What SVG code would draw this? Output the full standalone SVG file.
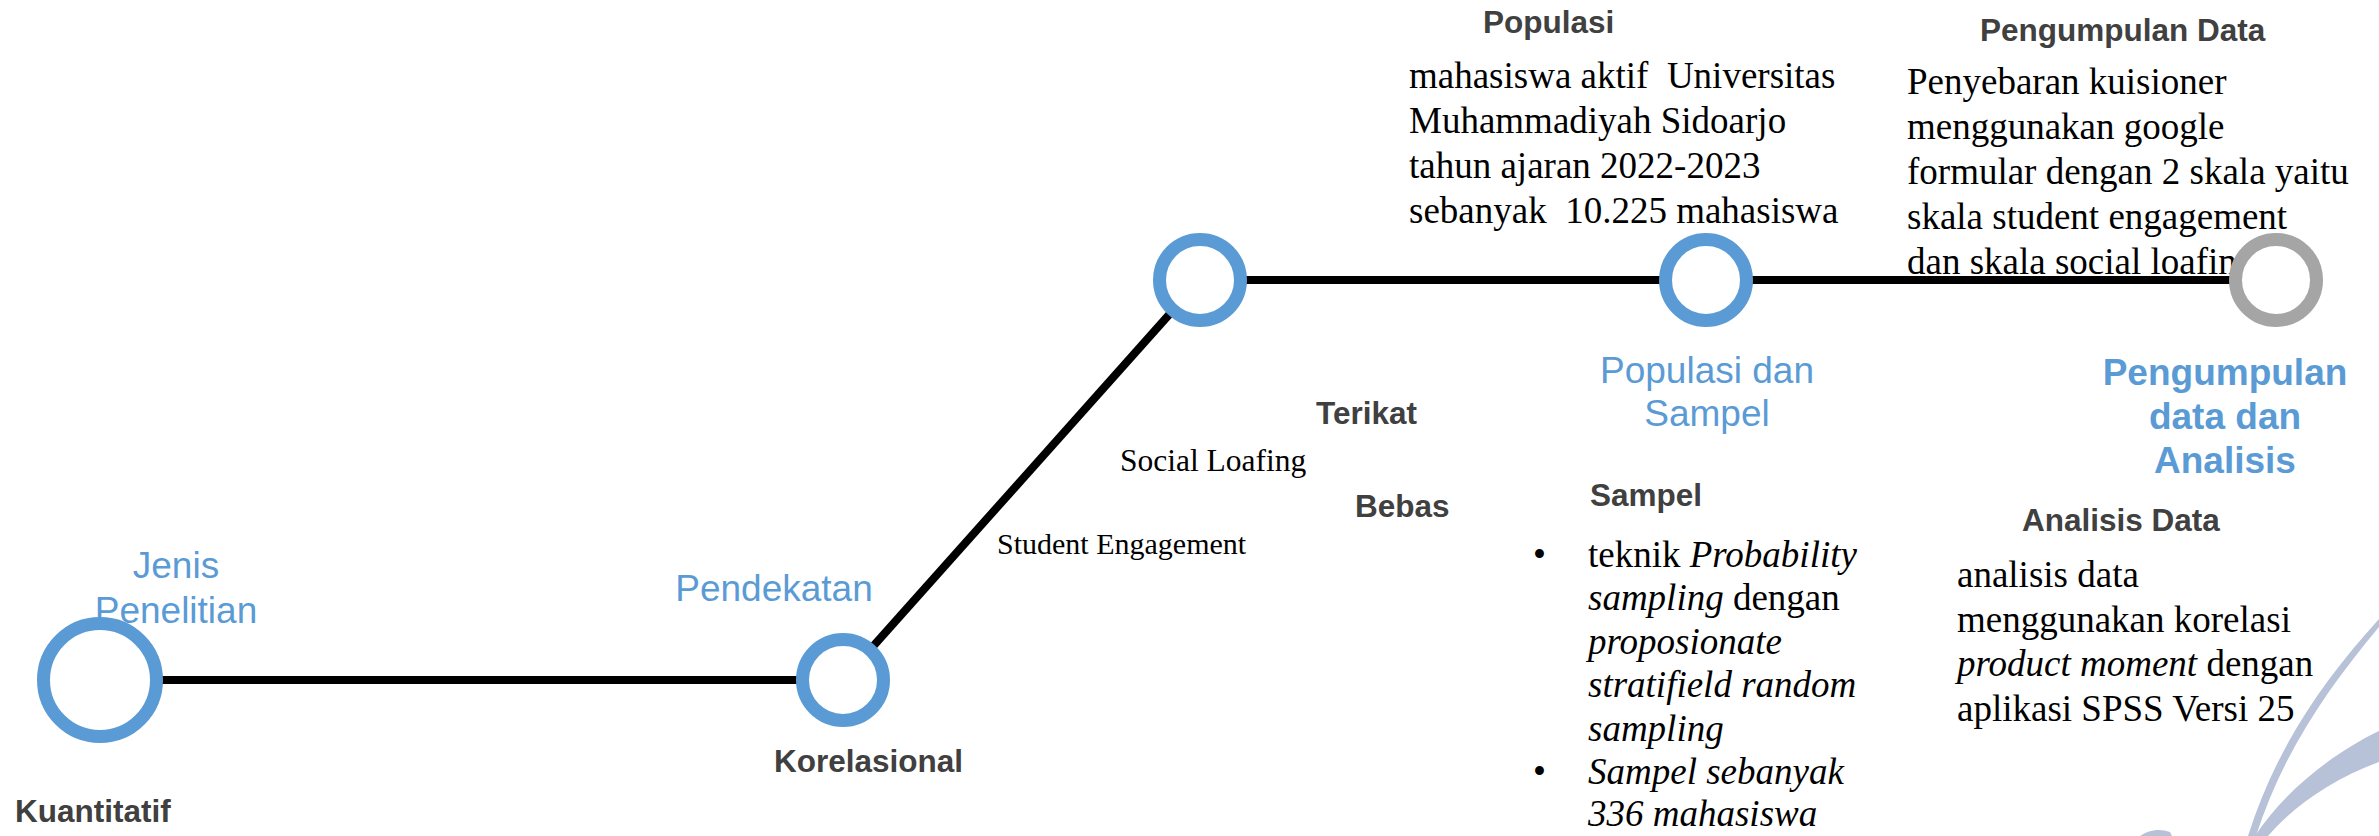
<svg xmlns="http://www.w3.org/2000/svg" width="2379" height="836" viewBox="0 0 2379 836">
<style>
.h{font-family:"Liberation Sans",Arial,sans-serif;font-size:37px;fill:#5B9BD5}
.hb{font-family:"Liberation Sans",Arial,sans-serif;font-size:37px;font-weight:bold;fill:#5B9BD5}
.lb{font-family:"Liberation Sans",Arial,sans-serif;font-size:31.5px;font-weight:bold;fill:#404040}
.t{font-family:"Liberation Serif","Times New Roman",serif;font-size:37px;fill:#000}
.ts{font-family:"Liberation Serif","Times New Roman",serif;font-size:31px;fill:#000}
.i{font-style:italic}
.ring{fill:#fff;stroke:#5B9BD5;stroke-width:13}
.ringg{fill:#fff;stroke:#A5A5A5;stroke-width:13}
.edge{stroke:#000;stroke-width:8;fill:none}
</style>
<rect width="2379" height="836" fill="#fff"/>
<g id="decoration" fill="#B7C1D7">
<path d="M2379,619 C2322,682 2276,748 2248,836 L2256,836 C2283,752 2328,688 2379,627 Z"/>
<path d="M2379,731 C2335,752 2285,790 2255,836 L2268,836 C2292,808 2330,780 2379,762 Z"/>
<path d="M2140,836 C2148,830 2160,828 2170,832 L2172,836 Z"/>
</g>
<g id="connectors">
<line class="edge" x1="100" y1="680" x2="843" y2="680"/>
<line class="edge" x1="843" y1="680" x2="1200" y2="280"/>
<line class="edge" x1="1200" y1="280" x2="2276" y2="280"/>
</g>
<g id="node-jenis">
<text class="h" text-anchor="middle"><tspan x="176" y="578">Jenis</tspan><tspan x="176" y="623">Penelitian</tspan></text>
<circle class="ring" cx="100" cy="680" r="56.5"/>
<text class="lb" x="15" y="822">Kuantitatif</text>
</g>
<g id="node-pendekatan">
<text class="h" x="774" y="601" text-anchor="middle">Pendekatan</text>
<circle class="ring" cx="843" cy="680" r="40.5"/>
<text class="lb" x="774" y="772">Korelasional</text>
</g>
<g id="node-variabel">
<circle class="ring" cx="1200" cy="280" r="40.5"/>
<text class="lb" x="1316" y="424">Terikat</text>
<text class="ts" x="1120" y="471" style="font-size:31.5px">Social Loafing</text>
<text class="lb" x="1355" y="517">Bebas</text>
<text class="ts" x="997" y="554" style="font-size:30px">Student Engagement</text>
</g>
<g id="node-populasi">
<text class="lb" x="1483" y="33">Populasi</text>
<text class="t" xml:space="preserve"><tspan x="1409" y="88">mahasiswa aktif  Universitas</tspan><tspan x="1409" y="133">Muhammadiyah Sidoarjo</tspan><tspan x="1409" y="178">tahun ajaran 2022-2023</tspan><tspan x="1409" y="223">sebanyak  10.225 mahasiswa</tspan></text>
<circle class="ring" cx="1706" cy="280" r="40.5"/>
<text class="h" text-anchor="middle"><tspan x="1707" y="383">Populasi dan</tspan><tspan x="1707" y="426">Sampel</tspan></text>
<text class="lb" x="1590" y="506">Sampel</text>
<text class="t" x="1533" y="567">•</text>
<text class="t" x="1533" y="784">•</text>
<text class="t" xml:space="preserve"><tspan x="1588" y="567">teknik <tspan class="i">Probability</tspan></tspan><tspan x="1588" y="610"><tspan class="i">sampling</tspan> dengan</tspan><tspan x="1588" y="654" class="i">proposionate</tspan><tspan x="1588" y="697" class="i">stratifield random</tspan><tspan x="1588" y="741" class="i">sampling</tspan><tspan x="1588" y="784" class="i">Sampel sebanyak</tspan><tspan x="1588" y="826" class="i">336 mahasiswa</tspan></text>
</g>
<g id="node-pengumpulan">
<text class="lb" x="1980" y="41">Pengumpulan Data</text>
<text class="t"><tspan x="1907" y="94">Penyebaran kuisioner</tspan><tspan x="1907" y="139">menggunakan google</tspan><tspan x="1907" y="184">formular dengan 2 skala yaitu</tspan><tspan x="1907" y="229">skala student engagement</tspan><tspan x="1907" y="274">dan skala social loafing</tspan></text>
<circle class="ringg" cx="2276" cy="280" r="40.5"/>
<text class="hb" text-anchor="middle"><tspan x="2225" y="385">Pengumpulan</tspan><tspan x="2225" y="429">data dan</tspan><tspan x="2225" y="473">Analisis</tspan></text>
<text class="lb" x="2022" y="531">Analisis Data</text>
<text class="t"><tspan x="1957" y="587">analisis data</tspan><tspan x="1957" y="632">menggunakan korelasi</tspan><tspan x="1957" y="676"><tspan class="i">product moment</tspan> dengan</tspan><tspan x="1957" y="721">aplikasi SPSS Versi 25</tspan></text>
</g>
</svg>
